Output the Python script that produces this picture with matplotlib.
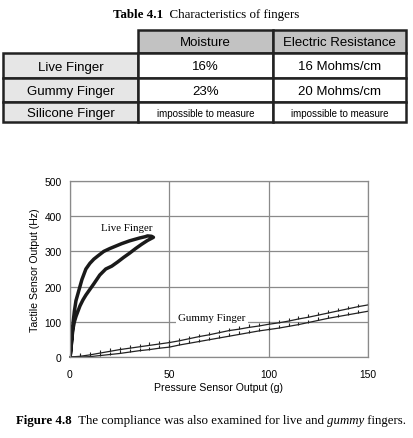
import matplotlib
matplotlib.use("Agg")
import matplotlib.pyplot as plt
from matplotlib.patches import Rectangle

# ---- table data ----
col_headers = ["Moisture", "Electric Resistance"]
row_labels = ["Live Finger", "Gummy Finger", "Silicone Finger"]
cell_values = [["16%", "16 Mohms/cm"],
               ["23%", "20 Mohms/cm"],
               ["impossible to measure", "impossible to measure"]]

# ---- chart data ----
live_x = [0, 0.3, 0.6, 1.0, 1.5, 2.2, 3, 4, 5, 6.5, 8, 10, 12, 15, 18, 21, 24, 27, 30, 33, 36, 39, 42,
          41, 39, 38, 35, 30, 26, 23, 20, 17, 14, 12, 10, 8, 6, 5, 4, 3, 2.2, 1.5, 1.0, 0.5, 0]
live_y = [0, 10, 30, 55, 80, 100, 115, 130, 145, 162, 176, 192, 208, 233, 250, 258, 270, 283, 295, 308, 320, 331, 340,
          343, 344, 342, 338, 330, 322, 315, 308, 300, 287, 278, 266, 250, 220, 200, 180, 160, 130, 95, 60, 25, 0]

gummy_x = list(range(0, 151, 5))
gummy_up = [0, 2, 6, 11, 16, 21, 25, 29, 33, 37, 41, 46, 52, 58, 63, 69, 75, 79, 84, 88, 93, 97,
            102, 108, 113, 119, 125, 131, 137, 143, 148]
gummy_down = [0, 0, 1, 4, 7, 10, 14, 18, 21, 25, 28, 34, 39, 44, 49, 54, 59, 64, 69, 74, 78, 82,
              87, 92, 98, 104, 110, 115, 120, 125, 130]

W, H = 414, 439
fig = plt.figure(figsize=(W / 100, H / 100), dpi=100)
fig.patch.set_facecolor("white")

# overlay axes in pixel coordinates for the table and captions
pax = fig.add_axes([0, 0, 1, 1])
pax.set_xlim(0, W)
pax.set_ylim(H, 0)
pax.axis("off")
pax.patch.set_alpha(0)

serif = "Liberation Serif"
sans = "Liberation Sans"
renderer = fig.canvas.get_renderer()


def mixed_text(ax, xc, y, parts, size):
    """Draw a line of text made of (string, weight, style) parts, centred at xc."""
    items, widths = [], []
    for s, weight, style in parts:
        t = ax.text(0, y, s, fontsize=size, family=serif, weight=weight, style=style,
                    ha="left", va="center")
        bb = t.get_window_extent(renderer=renderer)
        items.append(t)
        widths.append(bb.width)
    x = xc - sum(widths) / 2
    for t, w in zip(items, widths):
        t.set_x(x)
        x += w


mixed_text(pax, 206, 15, [("Table 4.1", "bold", "normal"),
                          ("  Characteristics of fingers", "normal", "normal")], 9.4)

col_edges = [3, 138, 273, 406]
row_edges = [31, 54, 79, 103, 123]
line_c = "#222222"

for j, head in enumerate(col_headers):
    x0, x1 = col_edges[j + 1], col_edges[j + 2]
    pax.add_patch(Rectangle((x0, row_edges[0]), x1 - x0, row_edges[1] - row_edges[0],
                            facecolor="#c2c2c2", edgecolor=line_c, lw=1.8))
    pax.text((x0 + x1) / 2, (row_edges[0] + row_edges[1]) / 2 + 1, head,
             fontsize=9.5, family=sans, ha="center", va="center")

for i, lab in enumerate(row_labels):
    y0, y1 = row_edges[i + 1], row_edges[i + 2]
    pax.add_patch(Rectangle((col_edges[0], y0), col_edges[1] - col_edges[0], y1 - y0,
                            facecolor="#e6e6e6", edgecolor=line_c, lw=1.8))
    pax.text((col_edges[0] + col_edges[1]) / 2, (y0 + y1) / 2 + 1, lab,
             fontsize=9.5, family=sans, ha="center", va="center")
    for j, val in enumerate(cell_values[i]):
        x0, x1 = col_edges[j + 1], col_edges[j + 2]
        pax.add_patch(Rectangle((x0, y0), x1 - x0, y1 - y0,
                                facecolor="white", edgecolor=line_c, lw=1.8))
        fs = 7 if len(val) > 15 else 9.5
        pax.text((x0 + x1) / 2, (y0 + y1) / 2 + 1, val,
                 fontsize=fs, family=sans, ha="center", va="center")

mixed_text(pax, 211, 421, [("Figure 4.8", "bold", "normal"),
                           ("  The compliance was also examined for live and ", "normal", "normal"),
                           ("gummy", "normal", "italic"),
                           (" fingers.", "normal", "normal")], 9.3)

# ---- chart ----
ax = fig.add_axes([70 / W, 1 - 358 / H, 298 / W, 176 / H])
ax.set_xlim(0, 150)
ax.set_ylim(0, 500)
ax.set_xticks([0, 50, 100, 150])
ax.set_yticks([0, 100, 200, 300, 400, 500])
ax.grid(True, color="#8a8a8a", lw=0.9)
ax.set_axisbelow(True)
for s in ax.spines.values():
    s.set_color("#8a8a8a")
    s.set_linewidth(0.9)
ax.tick_params(length=0, labelsize=7.4, pad=6)
ax.tick_params(axis="x", pad=9)
for lab in ax.get_xticklabels() + ax.get_yticklabels():
    lab.set_family(sans)
ax.set_xlabel("Pressure Sensor Output (g)", fontsize=7.6, family=sans, labelpad=2)
ax.set_ylabel("Tactile Sensor Output (Hz)", fontsize=7.6, family=sans, labelpad=3)

ax.plot(gummy_x, gummy_up, color="#222222", lw=0.9, marker=2, ms=2, mew=0.8, clip_on=False)
ax.plot(gummy_x, gummy_down, color="#222222", lw=0.9, marker=2, ms=2, mew=0.8, clip_on=False)
ax.plot(live_x, live_y, color="#1a1a1a", lw=2.5, solid_joinstyle="round")

ax.text(28.5, 368, "Live Finger", fontsize=7.8, family=serif, ha="center", va="center")
ax.text(71.5, 112, "Gummy Finger", fontsize=7.8, family=serif, ha="center", va="center",
        bbox=dict(facecolor="white", edgecolor="none", pad=1.5))

fig.savefig("out.png", dpi=100)
